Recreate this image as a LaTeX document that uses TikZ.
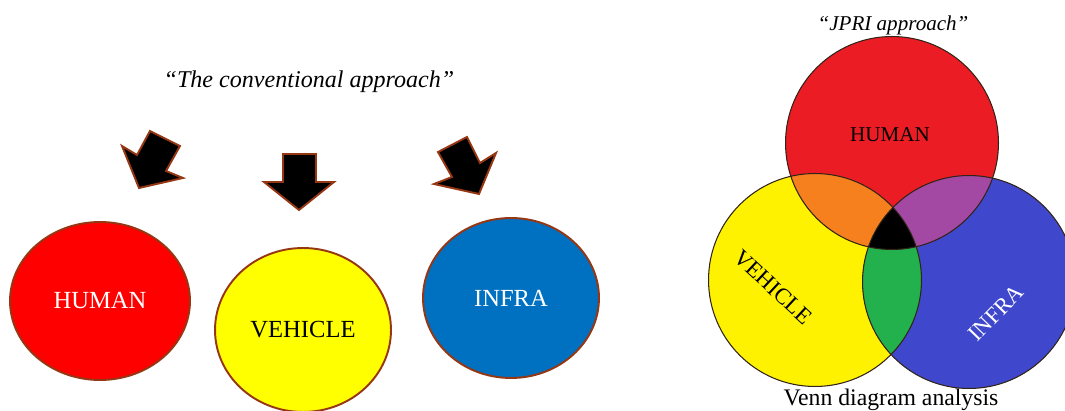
\documentclass[tikz,border=0pt]{standalone}
\usepackage{fontspec}
\setmainfont{Liberation Serif}
\usetikzlibrary{shapes.geometric}

\definecolor{rim}{RGB}{150,55,20}
\definecolor{cred}{RGB}{255,0,0}
\definecolor{cyellow}{RGB}{255,255,0}
\definecolor{cblue}{RGB}{0,112,192}
\definecolor{vred}{RGB}{236,28,36}
\definecolor{vyellow}{RGB}{255,242,0}
\definecolor{vblue}{RGB}{63,72,204}
\definecolor{vorange}{RGB}{247,128,30}
\definecolor{vpurple}{RGB}{163,73,164}
\definecolor{vgreen}{RGB}{34,177,76}
\definecolor{vedge}{RGB}{50,35,25}

\begin{document}
\begin{tikzpicture}[x=0.02cm,y=-0.02cm,
    blob/.style={draw=rim,line width=1.1pt,ellipse,inner sep=0pt,font=\fontsize{14}{16}\selectfont},
    blockarrow/.style={draw=rim,line width=1.1pt,fill=black,line join=miter},
    vline/.style={draw=vedge,line width=.6pt}]
        \pgfmathsetmacro{\r}{2.13}
        \useasboundingbox (0,0) rectangle (1065,411);

        % conventional approach
        \node[font=\fontsize{13.7}{16}\selectfont\itshape] (T1) at (309,82) {“The conventional approach”};

        \node[blob,fill=cred,text=white,minimum width=3.6cm,minimum height=3.16cm] (H1) at (100,301) {HUMAN};
        \node[blob,fill=cyellow,minimum width=3.52cm,minimum height=3.28cm] (V1) at (303,330) {VEHICLE};
        \node[blob,fill=cblue,text=white,minimum width=3.52cm,minimum height=3.2cm] (I1) at (511,298) {INFRA};

        \draw[blockarrow] (150,131) -- (180,146) -- (166,171) -- (183,178) -- (139,188) -- (122,146) -- (137,155) -- cycle;
        \draw[blockarrow] (283,154) -- (316,154) -- (316,182) -- (334,182) -- (299,210) -- (264,182) -- (283,182) -- cycle;
        \draw[blockarrow] (438,152) -- (467,137) -- (480,163) -- (496,153) -- (479,194) -- (434,184) -- (452,177) -- cycle;

        % JPRI approach
        \node[font=\fontsize{12}{14}\selectfont\itshape] (T2) at (893,25) {“JPRI approach”};

        \coordinate (H2) at (892,143);
        \coordinate (V2) at (815,280);
        \coordinate (I2) at (969,282);

        \begin{scope}
        \clip (0,0) rectangle (1065,411);
        \fill[vred] (H2) circle (\r cm);
        \fill[vyellow] (V2) circle (\r cm);
        \fill[vblue] (I2) circle (\r cm);

        \begin{scope}
        \clip (H2) circle (\r cm);
        \fill[vorange] (V2) circle (\r cm);
        \fill[vpurple] (I2) circle (\r cm);
        \end{scope}
        \begin{scope}
        \clip (V2) circle (\r cm);
        \fill[vgreen] (I2) circle (\r cm);
        \clip (I2) circle (\r cm);
        \fill[black] (H2) circle (\r cm);
        \end{scope}

        \foreach \c in {H2,V2,I2}
            \draw[vline] (\c) circle (\r cm);
        \end{scope}

        \node[font=\fontsize{12}{14}\selectfont] (H2t) at (890,135) {HUMAN};
        \node[font=\fontsize{13}{15}\selectfont,rotate=-43] (V2t) at (773,287) {VEHICLE};
        \node[font=\fontsize{13}{15}\selectfont,rotate=46,text=white] (I2t) at (996,313) {INFRA};

        \node[font=\fontsize{13.5}{16}\selectfont] (L2) at (891,400) {Venn diagram analysis};
      \end{tikzpicture}
\end{document}
